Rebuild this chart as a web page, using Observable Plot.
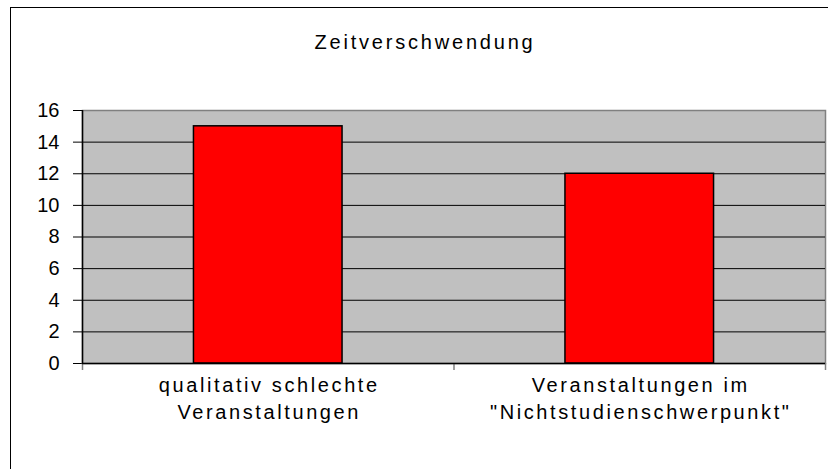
<!DOCTYPE html>
<html>
<head>
<meta charset="utf-8">
<script src="https://cdn.jsdelivr.net/npm/d3@7"></script>
<script src="https://cdn.jsdelivr.net/npm/@observablehq/plot@0.6"></script>
<style>
  html, body { margin: 0; padding: 0; background: #fff; }
  #wrap { position: relative; width: 828px; height: 469px; overflow: hidden; font-family: "Liberation Sans", Arial, sans-serif; }
  #border { position: absolute; left: 10px; top: 7px; width: 900px; height: 600px; border: 1px solid #000; box-sizing: border-box; }
  #title { position: absolute; left: 0; width: 828px; top: 31px; text-align: center; font-size: 20px; letter-spacing: 2.8px; padding-left: 22px; box-sizing: border-box; color: #000; }
  #chart { position: absolute; left: 0; top: 0; }
  #chart g[aria-label="text"] text { letter-spacing: 2.6px; }
</style>
</head>
<body>
<div id="wrap">
  <div id="border"></div>
  <div id="title">Zeitverschwendung</div>
  <div id="chart"></div>
</div>
<script>
const title = "Zeitverschwendung";
const categories = ["qualitativ schlechte\nVeranstaltungen", "Veranstaltungen im\n\"Nichtstudienschwerpunkt\""];
const values = [15, 12];
const yTicks = [0, 2, 4, 6, 8, 10, 12, 14, 16];

const data = categories.map((c, i) => ({cat: c, i, value: values[i]}));
const boundaries = d3.range(categories.length + 1);

const chart = Plot.plot({
  width: 828,
  height: 469,
  marginLeft: 82,
  marginRight: 3,
  marginTop: 110,
  marginBottom: 106,
  style: {fontFamily: "'Liberation Sans', Arial, sans-serif", background: "transparent", overflow: "visible"},
  x: {domain: [0, categories.length], axis: null},
  y: {domain: [0, 16], axis: null},
  marks: [
    Plot.frame({fill: "#C0C0C0", stroke: "#808080", strokeWidth: 1.5}),
    Plot.ruleY(yTicks.slice(1, -1), {stroke: "#000", strokeWidth: 1}),
    Plot.rectY(data, {x1: d => d.i + 0.3, x2: d => d.i + 0.7, y1: 0, y2: "value", fill: "#FF0000", stroke: "#000", strokeWidth: 1.5}),
    Plot.axisY({ticks: yTicks, label: null, tickSize: 9, tickPadding: 14, fontSize: 20, stroke: "#000", strokeWidth: 1, color: "#000"}),
    Plot.axisX({ticks: boundaries, label: null, tickSize: 7, tickFormat: () => "", stroke: "#808080", strokeWidth: 1.5}),
    Plot.ruleX([0], {stroke: "#000", strokeWidth: 1.5}),
    Plot.ruleY([0], {stroke: "#000", strokeWidth: 1.5}),
    Plot.text(data, {x: d => d.i + 0.5, text: "cat", frameAnchor: "bottom", lineAnchor: "top", dy: 9, dx: 1, lineHeight: 1.35, fontSize: 20, fill: "#000"})
  ]
});
document.getElementById("chart").appendChild(chart);
</script>
</body>
</html>
